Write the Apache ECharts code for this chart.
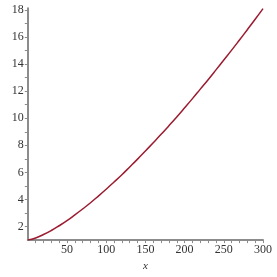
<!DOCTYPE html>
<html><head><meta charset="utf-8">
<script src="https://cdn.jsdelivr.net/npm/echarts@6/dist/echarts.min.js"></script>
<style>html,body{margin:0;padding:0;background:#fff}#c{width:277px;height:277px}</style>
</head><body><div id="c"></div>
<script>
const xValues = [0,10,20,30,40,50,60,70,80,90,100,110,120,130,140,150,160,170,180,190,200,210,220,230,240,250,260,270,280,290,300];
const yValues = [1.00,1.16,1.41,1.71,2.06,2.44,2.86,3.30,3.76,4.25,4.76,5.29,5.83,6.40,6.98,7.58,8.19,8.81,9.45,10.10,10.77,11.45,12.15,12.85,13.57,14.30,15.03,15.78,16.54,17.31,18.10];
const xTickLabels = [50,100,150,200,250,300];
const yTickLabels = [2,4,6,8,10,12,14,16,18];
const xTicks = [10,20,30,40,50,60,70,80,90,100,110,120,130,140,150,160,170,180,190,200,210,220,230,240,250,260,270,280,290,300];
const yTicks = [2,3,4,5,6,7,8,9,10,11,12,13,14,15,16,17,18];

const chart = echarts.init(document.getElementById('c'), null, {renderer:'canvas'});
const font = 'Liberation Serif';
chart.setOption({
  animation:false,
  grid:{left:27.8, right:14, top:8.3, bottom:30.4, containLabel:false},
  xAxis:{
    type:'value', min:0, max:300,
    name:'x', nameLocation:'middle', nameGap:19,
    nameTextStyle:{fontFamily:font, fontStyle:'italic', fontSize:11, color:'#333'},
    axisLine:{lineStyle:{color:'#8c8c8c', width:2}},
    axisTick:{show:true, customValues:xTicks, length:3, lineStyle:{color:'#8c8c8c', width:1}},
    axisLabel:{customValues:xTickLabels, fontFamily:font, fontSize:12, color:'#333', margin:4},
    splitLine:{show:false}
  },
  yAxis:{
    type:'value', min:1, max:18.12,
    axisLine:{show:true, lineStyle:{color:'#8c8c8c', width:2}},
    axisTick:{show:true, customValues:yTicks, length:3, lineStyle:{color:'#8c8c8c', width:1}},
    axisLabel:{customValues:yTickLabels, fontFamily:font, fontSize:12, color:'#333', margin:4},
    splitLine:{show:false}
  },
  series:[{
    type:'line', data:xValues.map((x,i)=>[x,yValues[i]]),
    smooth:true, showSymbol:false, symbol:'none',
    lineStyle:{color:'#9b1b30', width:1.5}
  }]
});
</script></body></html>
